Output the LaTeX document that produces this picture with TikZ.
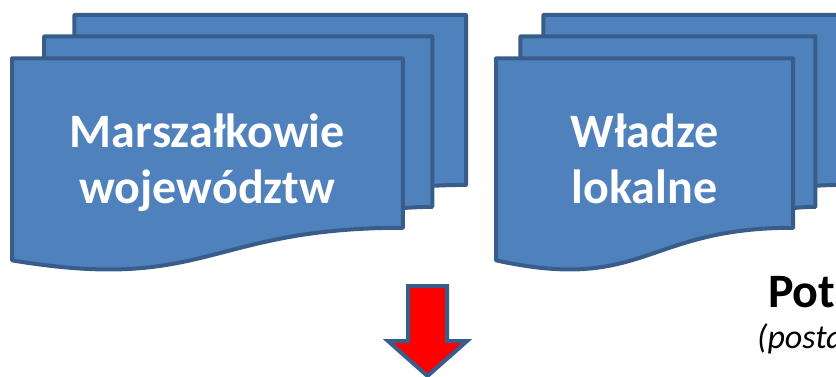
\documentclass[tikz,border=0pt]{standalone}
\usepackage{fontspec}
\setmainfont{Carlito}
\definecolor{docfill}{HTML}{4F81BD}
\definecolor{docline}{HTML}{385D8A}
\tikzset{
  sheet/.style={fill=docfill, draw=docline, line width=4pt, line join=round},
  doctext/.style={anchor=base, align=center, inner sep=0pt, text=white,
    font=\fontsize{48}{56}\selectfont\bfseries},
  redarrow/.style={fill=red, draw=docline, line width=4pt, line join=miter}
}
\newcommand\mymultidoc[4]{%
  \begin{scope}[shift={(#1,#2)}, x=#3pt/216, y=-#4pt/216]
    \draw[sheet] (29.72,0) -- (216,0) -- (216,143.92)
      .. controls (208,143.92) and (200,144.67) .. (200,144.67)
      -- (29.72,144.67) -- cycle;
    \draw[sheet] (15.32,18.15) -- (200,18.15) -- (200,162.52)
      .. controls (192.98,162.52) and (185.95,163.52) .. (185.95,163.52)
      -- (15.32,163.52) -- cycle;
    \draw[sheet] (0,36.75) -- (185.95,36.75) -- (185.95,180.22)
      .. controls (92.98,180.22) and (92.98,235.42) .. (0,207.82) -- cycle;
  \end{scope}}
\begin{document}
\begin{tikzpicture}[x=1pt, y=-1pt]
  \useasboundingbox (0,0) rectangle (836,377);
  \clip (0,0) rectangle (836,377);
  \mymultidoc{12}{15}{454}{255}
  \mymultidoc{496}{15}{345}{255}
  \node[doctext] (marsz) at (207.4,204) {Marszałkowie\\województw};
  \node[doctext] (wladze) at (644.5,204) {Władze\\lokalne};
  \node[anchor=base west, inner sep=0pt, font=\fontsize{48}{56}\selectfont\bfseries] (pot) at (768,307) {Pot};
  \node[anchor=base west, inner sep=0pt, font=\fontsize{34}{40}\selectfont\itshape] (posta) at (757,348) {(posta};
  \draw[redarrow] (408,286) -- (447,286) -- (447,341) -- (467,341)
    -- (427.5,376) -- (388,341) -- (408,341) -- cycle;
\end{tikzpicture}
\end{document}
